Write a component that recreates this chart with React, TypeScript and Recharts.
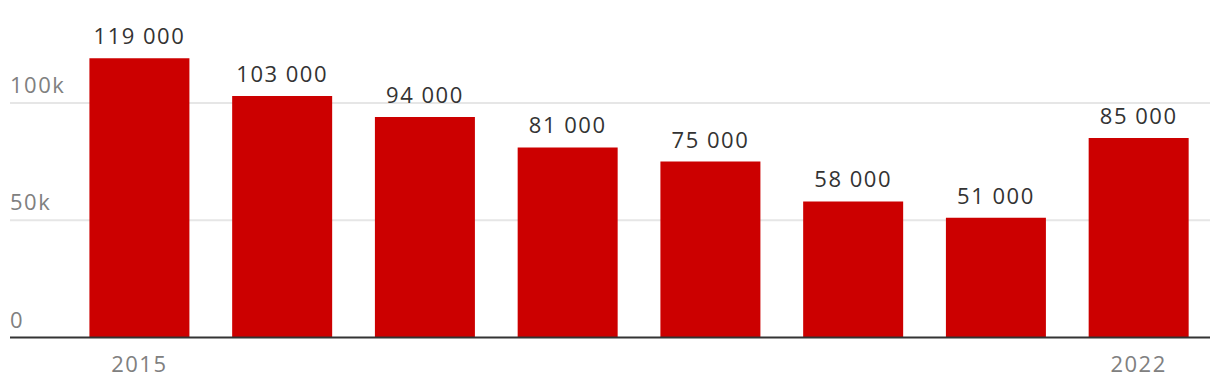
import { BarChart, Bar, XAxis, YAxis, CartesianGrid, LabelList } from "recharts";

const years = ["2015", "2016", "2017", "2018", "2019", "2020", "2021", "2022"];
const counts = [119000, 103000, 94000, 81000, 75000, 58000, 51000, 85000];
const yTicks = [0, 50000, 100000];
const gridValues = [50000, 100000];
const shownYears = ["2015", "2022"];

const data = years.map((year, i) => ({ year, count: counts[i] }));

const FONT = "'Open Sans', sans-serif";

const formatValue = (v: number) =>
  String(v).replace(/\B(?=(\d{3})+(?!\d))/g, " ");

const formatTick = (v: number) => (v === 0 ? "0" : `${v / 1000}k`);

const YTick = (props: any) => {
  const { y, payload } = props;
  return (
    <text
      x={2}
      y={y - 10}
      textAnchor="start"
      fill="#808080"
      fontSize={22}
      letterSpacing={1.5}
      fontFamily={FONT}
    >
      {formatTick(payload.value)}
    </text>
  );
};

const XTick = (props: any) => {
  const { x, y, payload } = props;
  if (!shownYears.includes(payload.value)) return null;
  return (
    <text
      x={x}
      y={y + 26}
      textAnchor="middle"
      fill="#808080"
      fontSize={22}
      letterSpacing={1.5}
      fontFamily={FONT}
    >
      {payload.value}
    </text>
  );
};

const App = () => {
  return (
    <div style={{ width: 1212, height: 380 }}>
      <BarChart
        width={1212}
        height={380}
        data={data}
        margin={{ top: 48, right: 10, bottom: 0, left: 1 }}
        barCategoryGap="15%"
      >
        <CartesianGrid
          vertical={false}
          horizontalValues={gridValues}
          stroke="#e6e6e6"
          strokeWidth={2}
        />
        <XAxis
          dataKey="year"
          interval={0}
          height={50.5}
          padding={{ left: 58, right: 0 }}
          axisLine={{ stroke: "#333333", strokeWidth: 2 }}
          tickLine={false}
          tick={<XTick />}
        />
        <YAxis
          width={1}
          domain={[0, 120000]}
          ticks={yTicks}
          axisLine={false}
          tickLine={false}
          tick={<YTick />}
        />
        <Bar dataKey="count" fill="#cc0000" isAnimationActive={false}>
          <LabelList
            dataKey="count"
            position="top"
            offset={14}
            formatter={(v: any) => formatValue(Number(v))}
            fill="#333333"
            fontSize={22}
            letterSpacing={1.5}
            fontFamily={FONT}
          />
        </Bar>
      </BarChart>
    </div>
  );
};

export default App;
